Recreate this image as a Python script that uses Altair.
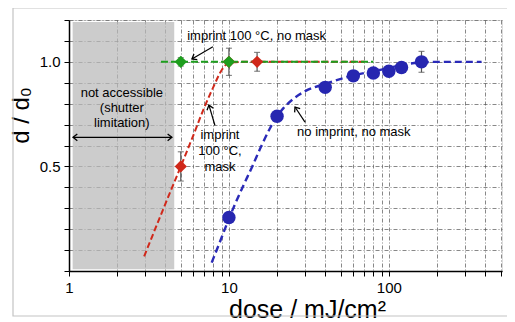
import altair as alt
import pandas as pd

# ---------------- data ----------------
green_x = [5, 10]
green_y = [1.0, 1.0]
green_err = [0.02, 0.065]

red_x = [5, 10, 15]
red_y = [0.5, 1.0, 1.0]
red_err = [0.07, 0.0, 0.045]

blue_x = [10, 20, 40, 60, 80, 100, 120, 160]
blue_y = [0.256, 0.74, 0.878, 0.933, 0.947, 0.955, 0.973, 1.0]
blue_err = [0, 0, 0, 0, 0, 0, 0, 0.05]

green_fit_x = [3.76, 80]
green_fit_y = [1.0, 1.0]
red_fit_x = [2.95, 4, 5, 6, 7, 8, 9, 10, 12, 70]
red_fit_y = [0.07, 0.32, 0.5, 0.65, 0.78, 0.88, 0.96, 0.995, 1.0, 1.0]
blue_fit_x = [7.8, 9, 10, 12, 14, 16, 18, 20, 22, 25, 30, 40, 60, 90, 120, 160, 200, 380]
blue_fit_y = [0.04, 0.16, 0.25, 0.39, 0.5, 0.6, 0.68, 0.74, 0.78, 0.82, 0.86, 0.895,
              0.935, 0.963, 0.985, 0.997, 1.0, 1.0]

# inaccessible region
region_x = [1.054]
region_x2 = [4.55]
region_y = [0.008]
region_y2 = [1.19]

# annotation texts
label_text = ["imprint 100 °C, no mask", "not accessible", "(shutter", "limitation)",
              "imprint", "100 °C,", "mask", "no imprint, no mask"]
label_x = [14.9, 2.14, 2.14, 2.14, 8.79, 8.79, 8.79, 60.4]
label_y = [1.125, 0.851, 0.779, 0.707, 0.649, 0.572, 0.495, 0.663]

# arrows (tail -> head)
arrow_x = [7.94, 8.17, 29.9, 1.06]
arrow_y = [1.072, 0.697, 0.712, 0.639]
arrow_x2 = [5.87, 7.5, 25.9, 4.4]
arrow_y2 = [1.014, 0.793, 0.784, 0.639]
head_x = [5.87, 7.5, 25.9, 1.06, 4.4]
head_y = [1.014, 0.793, 0.784, 0.639, 0.639]
head_angle = [240, 343, 326, 270, 90]

x_ticks = [1, 2, 3, 4, 5, 6, 7, 8, 9, 10, 20, 30, 40, 50, 60, 70, 80, 90,
           100, 200, 300, 400, 500]
y_ticks = [0, 0.1, 0.2, 0.3, 0.4, 0.5, 0.6, 0.7, 0.8, 0.9, 1.0, 1.1, 1.2]

# ---------------- chart ----------------
FONT = "Liberation Sans"
xscale = alt.Scale(type="log", domain=[1, 510])
yscale = alt.Scale(domain=[0, 1.2], nice=False, zero=False)

xaxis = alt.Axis(
    values=x_ticks,
    labelExpr="(datum.value == 1 || datum.value == 10 || datum.value == 100) ? toString(datum.value) : ''",
    title="dose / mJ/cm²", titleFontSize=25, titleFontWeight="normal", titleFont=FONT,
    titleX=238, titleY=46, titleBaseline="alphabetic", titleAlign="center",
    labelFontSize=15, labelFont=FONT, labelColor="black", labelPadding=4,
    tickSize=5, tickColor="black", domainColor="black", domainWidth=1.5,
    grid=True, gridColor="#555555", gridDash=[4, 2, 1, 2], gridWidth=0.7,
    labelFlush=False, labelOverlap=False,
)
yaxis = alt.Axis(
    values=y_ticks,
    labelExpr="(datum.value == 0.5 || datum.value == 1) ? format(datum.value, '.1f') : ''",
    title="d / d₀", titleFontSize=24, titleFontWeight="normal", titleFont=FONT,
    titleX=-41, titleY=95, titleBaseline="alphabetic", titleAlign="center", titleAngle=270,
    labelFontSize=15, labelFont=FONT, labelColor="black", labelPadding=4,
    tickSize=5, tickColor="black", domainColor="black", domainWidth=1.5,
    grid=True, gridColor="#555555", gridDash=[4, 2, 1, 2], gridWidth=0.7,
    labelFlush=False, labelOverlap=False,
)


def X(f="x"):
    return alt.X(f"{f}:Q", scale=xscale, axis=xaxis)


def Y(f="y"):
    return alt.Y(f"{f}:Q", scale=yscale, axis=yaxis)


region = alt.Chart(pd.DataFrame({"x": region_x, "x2": region_x2, "y": region_y, "y2": region_y2})).mark_rect(
    color="#b8b8b8", opacity=0.72
).encode(x=X(), x2="x2:Q", y=Y(), y2="y2:Q")

frame = alt.Chart(pd.DataFrame({"a": [0]})).mark_rect(
    fillOpacity=0, stroke="#c4c4c4", strokeWidth=1.2, clip=False
).encode(x=alt.value(-56), x2=alt.value(470), y=alt.value(-12), y2=alt.value(296))

red_fit = alt.Chart(pd.DataFrame({"x": red_fit_x, "y": red_fit_y})).mark_line(
    color="#d0281a", strokeWidth=2, strokeDash=[6, 3], interpolate="monotone"
).encode(x=X(), y=Y())

blue_fit = alt.Chart(pd.DataFrame({"x": blue_fit_x, "y": blue_fit_y})).mark_line(
    color="#2a2ab8", strokeWidth=2.4, strokeDash=[7, 4], interpolate="monotone"
).encode(x=X(), y=Y())

green_fit = alt.Chart(pd.DataFrame({"x": green_fit_x, "y": green_fit_y})).mark_line(
    color="#1e9e1e", strokeWidth=2, strokeDash=[7, 3]
).encode(x=X(), y=Y())


def errbars(xs, ys, es):
    df = pd.DataFrame({"x": xs, "y": ys, "e": es})
    df = df[df.e > 0].copy()
    df["lo"] = df.y - df.e
    df["hi"] = df.y + df.e
    bar = alt.Chart(df).mark_rule(color="#555555", strokeWidth=1.2).encode(
        x=X(), y=Y("lo"), y2="hi:Q")
    cap_lo = alt.Chart(df).mark_tick(color="#555555", orient="horizontal", size=6, thickness=1.2).encode(
        x=X(), y=Y("lo"))
    cap_hi = alt.Chart(df).mark_tick(color="#555555", orient="horizontal", size=6, thickness=1.2).encode(
        x=X(), y=Y("hi"))
    return [bar, cap_lo, cap_hi]


errs = errbars(green_x, green_y, green_err) + errbars(red_x, red_y, red_err) + errbars(blue_x, blue_y, blue_err)

red_pts = alt.Chart(pd.DataFrame({"x": red_x, "y": red_y})).mark_point(
    shape="diamond", filled=True, size=150, color="#d0281a", opacity=1
).encode(x=X(), y=Y())

green_pts = alt.Chart(pd.DataFrame({"x": green_x, "y": green_y})).mark_point(
    shape="diamond", filled=True, size=150, color="#1e9e1e", opacity=1
).encode(x=X(), y=Y())

blue_pts = alt.Chart(pd.DataFrame({"x": blue_x, "y": blue_y})).mark_point(
    shape="circle", filled=True, size=180, color="#2626b0", opacity=1
).encode(x=X(), y=Y())

arrows = alt.Chart(pd.DataFrame({"x": arrow_x, "y": arrow_y, "x2": arrow_x2, "y2": arrow_y2})).mark_rule(
    color="black", strokeWidth=1.2
).encode(x=X(), y=Y(), x2="x2:Q", y2="y2:Q")

heads = alt.Chart(pd.DataFrame({"x": head_x, "y": head_y, "a": head_angle})).mark_point(
    shape="M -0.7 0.9 L 0 0 L 0.7 0.9", filled=False, size=90, color="black", strokeWidth=1.3, opacity=1
).encode(x=X(), y=Y(), angle=alt.Angle("a:Q", scale=None))

labels = alt.Chart(pd.DataFrame({"x": label_x, "y": label_y, "t": label_text})).mark_text(
    font=FONT, fontSize=13, color="black", align="center", baseline="middle"
).encode(x=X(), y=Y(), text="t:N")

chart = alt.layer(
    region, frame, red_fit, blue_fit, green_fit, *errs, red_pts, green_pts, blue_pts,
    arrows, heads, labels
).properties(
    width=433, height=251,
    autosize=alt.AutoSizeParams(type="none"),
    padding={"left": 61, "top": 12, "right": 5, "bottom": 51},
).configure_view(
    stroke="black", strokeWidth=1.5
).configure(background="white")

chart.save("out.html", embed_options={"renderer": "svg", "actions": False})
